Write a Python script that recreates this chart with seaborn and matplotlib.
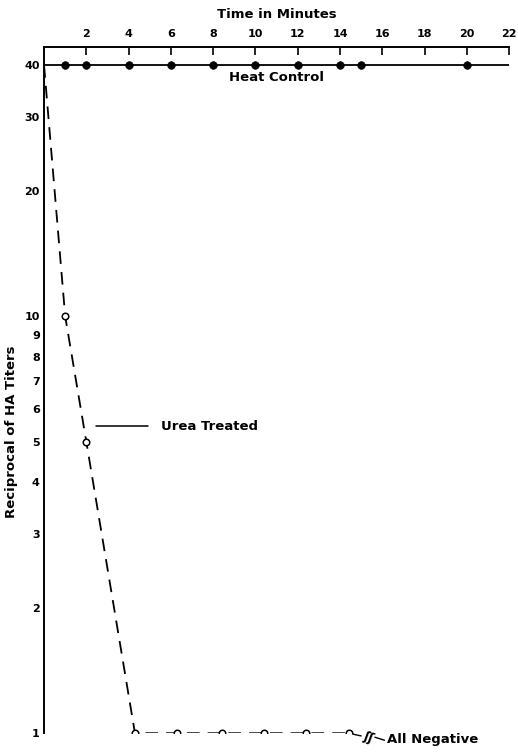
import numpy as np
import pandas as pd
import matplotlib
matplotlib.use("Agg")
import matplotlib.pyplot as plt
import seaborn as sns

# Heat control titers (reciprocal), constant over time
heat_minutes = [1, 2, 4, 6, 8, 10, 12, 14, 15, 20]
heat_titer = [40, 40, 40, 40, 40, 40, 40, 40, 40, 40]
heat_line_minutes = [0, 22]
heat_line_titer = [40, 40]

# Urea treated titers (reciprocal)
urea_minutes = [1, 2, 4.3, 6.3, 8.4, 10.4, 12.4, 14.4]
urea_titer = [10, 5, 1, 1, 1, 1, 1, 1]
urea_start_minutes = [0]
urea_start_titer = [40]

x_ticks = [2, 4, 6, 8, 10, 12, 14, 16, 18, 20, 22]
y_ticks = [1, 2, 3, 4, 5, 6, 7, 8, 9, 10, 20, 30, 40]

sns.set_theme(style="white")
plt.rcParams["font.family"] = ["DejaVu Sans"]
plt.rcParams["font.weight"] = "bold"
plt.rcParams["text.color"] = "black"
plt.rcParams["axes.labelcolor"] = "black"
plt.rcParams["xtick.color"] = "black"
plt.rcParams["ytick.color"] = "black"

fig = plt.figure(figsize=(5.18, 7.52), dpi=100)
ax = fig.add_axes([0.085, 0.025, 0.898, 0.9125])

heat_df = pd.DataFrame({"minutes": heat_minutes, "titer": heat_titer})
heat_line_df = pd.DataFrame({"minutes": heat_line_minutes, "titer": heat_line_titer})
urea_df = pd.DataFrame({"minutes": urea_minutes, "titer": urea_titer})
urea_line_df = pd.DataFrame({
    "minutes": urea_start_minutes + urea_minutes,
    "titer": urea_start_titer + urea_titer,
})

sns.lineplot(data=heat_line_df, x="minutes", y="titer", ax=ax, color="black",
             linewidth=1.3, sort=False)
sns.scatterplot(data=heat_df, x="minutes", y="titer", ax=ax, color="black",
                s=30, edgecolor="black", linewidth=0.5, zorder=3)

sns.lineplot(data=urea_line_df, x="minutes", y="titer", ax=ax, color="black",
             linewidth=1.3, sort=False, dashes=False)
ax.lines[-1].set_dashes([7, 4.5])
sns.scatterplot(data=urea_df, x="minutes", y="titer", ax=ax, color="white",
                s=22, edgecolor="black", linewidth=1.1, zorder=3)

ax.set_yscale("log")
ax.set_xlim(0, 22)
ax.set_ylim(1, 44.2)

ax.xaxis.set_ticks_position("top")
ax.xaxis.set_label_position("top")
ax.set_xticks(x_ticks)
ax.set_xticklabels([str(t) for t in x_ticks])
ax.set_yticks(y_ticks)
ax.set_yticklabels([str(t) for t in y_ticks])
ax.yaxis.set_minor_locator(matplotlib.ticker.NullLocator())
ax.tick_params(axis="both", direction="in", length=6, width=1.2, colors="black",
               labelsize=8, pad=3)
ax.tick_params(axis="x", pad=6)

for side in ["right", "bottom"]:
    ax.spines[side].set_visible(False)
for side in ["left", "top"]:
    ax.spines[side].set_color("black")
    ax.spines[side].set_linewidth(1.4)

ax.set_xlabel("Time in Minutes", fontsize=9.5, fontweight="bold", labelpad=8)
ax.set_ylabel("Reciprocal of HA Titers", fontsize=9.5, fontweight="bold")
ax.yaxis.set_label_coords(-0.055, 0.44)

ax.text(11.0, 37.4, "Heat Control", ha="center", va="center",
        fontsize=9.5, fontweight="bold")

ax.plot([2.45, 4.9], [5.45, 5.45], color="black", linewidth=1.1)
ax.text(5.55, 5.45, "Urea Treated", ha="left", va="center",
        fontsize=9.5, fontweight="bold")

# break mark after the last negative reading
ax.plot([14.6, 15.0], [0.995, 0.985], color="black", linewidth=1.0, clip_on=False)
ax.text(15.35, 0.975, "ʃʃ", ha="center", va="center", fontsize=9,
        fontweight="bold", rotation=-20, clip_on=False)
ax.plot([15.65, 16.1], [0.978, 0.962], color="black", linewidth=1.0, clip_on=False)
ax.text(16.2, 0.965, "All Negative", ha="left", va="center",
        fontsize=9.5, fontweight="bold", clip_on=False)

fig.savefig("out.png", dpi=100, facecolor="white")
